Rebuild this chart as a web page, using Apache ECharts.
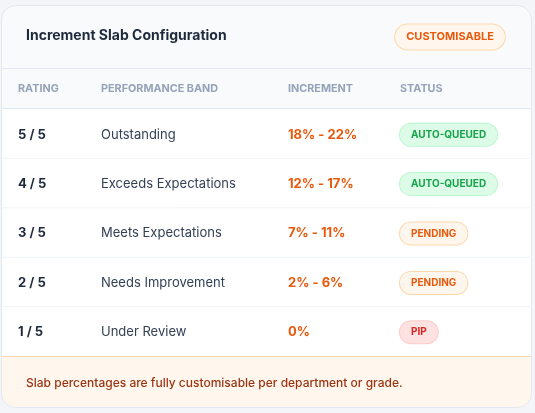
<!DOCTYPE html>
<html>
<head>
<meta charset="utf-8">
<script src="https://cdn.jsdelivr.net/npm/echarts@6/dist/echarts.min.js"></script>
<style>
html,body{margin:0;padding:0;background:#f3f5f8;}
#chart{width:535px;height:413px;}
</style>
</head>
<body>
<div id="chart"></div>
<script>
const title = 'Increment Slab Configuration';
const badgeText = 'CUSTOMISABLE';
const columns = ['RATING', 'PERFORMANCE BAND', 'INCREMENT', 'STATUS'];
const ratings = ['5 / 5', '4 / 5', '3 / 5', '2 / 5', '1 / 5'];
const bands = ['Outstanding', 'Exceeds Expectations', 'Meets Expectations', 'Needs Improvement', 'Under Review'];
const increments = ['18% - 22%', '12% - 17%', '7% - 11%', '2% - 6%', '0%'];
const statuses = ['AUTO-QUEUED', 'AUTO-QUEUED', 'PENDING', 'PENDING', 'PIP'];
const footerNote = 'Slab percentages are fully customisable per department or grade.';

const FONT = 'Inter, "Noto Sans", sans-serif';
const colX = [18, 101, 288, 400];
const statusStyle = {
  'AUTO-QUEUED': { fill: '#16a34a', bg: '#dcfce7', border: '#bbf7d0' },
  'PENDING': { fill: '#ea580c', bg: '#fff7ed', border: '#fed7aa' },
  'PIP': { fill: '#dc2626', bg: '#fee2e2', border: '#fecaca' }
};

const chart = echarts.init(document.getElementById('chart'), null, { renderer: 'canvas' });

const rows = ratings.map((r, i) => [0.5, r]);

const headerGraphics = columns.map((c, i) => ({
  type: 'text', x: colX[i], y: 89, z: 10,
  style: { text: c, fill: '#94a3b8', font: 'bold 10.8px ' + FONT, verticalAlign: 'middle' }
}));

chart.setOption({
  animation: false,
  backgroundColor: '#f3f5f8',
  grid: { left: 2, right: 3, top: 109, bottom: 57 },
  xAxis: { type: 'value', min: 0, max: 1, show: false },
  yAxis: { type: 'category', data: ratings, inverse: true, show: false },
  graphic: [
    { type: 'rect', z: 0, shape: { x: 2, y: 5, width: 530, height: 403, r: 14 }, style: { fill: '#ffffff' } },
    { type: 'rect', z: 1, shape: { x: 2, y: 5, width: 530, height: 104, r: [14, 14, 0, 0] }, style: { fill: '#f8fafc' } },
    { type: 'rect', z: 1, shape: { x: 2, y: 356, width: 530, height: 52, r: [0, 0, 14, 14] }, style: { fill: '#fff7ed' } },
    { type: 'line', z: 2, shape: { x1: 2, y1: 68.5, x2: 532, y2: 68.5 }, style: { stroke: '#e2e8f0', lineWidth: 1 } },
    { type: 'line', z: 2, shape: { x1: 2, y1: 108.5, x2: 532, y2: 108.5 }, style: { stroke: '#e2e8f0', lineWidth: 1 } },
    { type: 'line', z: 2, shape: { x1: 2, y1: 356.5, x2: 532, y2: 356.5 }, style: { stroke: '#fed7aa', lineWidth: 1 } },
    { type: 'rect', z: 3, shape: { x: 1.5, y: 5.5, width: 530, height: 402, r: 14 }, style: { fill: 'none', stroke: '#e2e8f0', lineWidth: 1 } },
    { type: 'text', x: 26, y: 36, z: 10, style: { text: title, fill: '#1e293b', font: 'bold 14px ' + FONT, verticalAlign: 'middle' } },
    { type: 'text', x: 450, y: 37, z: 10, style: {
      text: badgeText, fill: '#ea580c', font: 'bold 11px ' + FONT, align: 'center', verticalAlign: 'middle',
      backgroundColor: '#fff7ed', borderColor: '#fed7aa', borderWidth: 1, borderRadius: 13, padding: [7, 11]
    } },
    ...headerGraphics,
    { type: 'text', x: 26, y: 383, z: 10, style: { text: footerNote, fill: '#9a3412', font: '500 12px ' + FONT, verticalAlign: 'middle' } }
  ],
  series: [{
    type: 'custom',
    data: rows,
    z: 5,
    renderItem: function (params, api) {
      const i = params.dataIndex;
      const pt = api.coord([0, i]);
      const cy = pt[1] + 1;
      const h = api.size([0, 1])[1];
      const st = statusStyle[statuses[i]];
      const children = [
        { type: 'text', style: { x: colX[0], y: cy, text: ratings[i], fill: '#1e293b', font: 'bold 13px ' + FONT, verticalAlign: 'middle' } },
        { type: 'text', style: { x: colX[1], y: cy, text: bands[i], fill: '#334155', font: '400 13px ' + FONT, verticalAlign: 'middle' } },
        { type: 'text', style: { x: colX[2], y: cy, text: increments[i], fill: '#ea580c', font: 'bold 13px ' + FONT, verticalAlign: 'middle' } },
        { type: 'text', style: { x: colX[3], y: cy, text: statuses[i], fill: st.fill, font: 'bold 10px ' + FONT, verticalAlign: 'middle',
          backgroundColor: st.bg, borderColor: st.border, borderWidth: 1, borderRadius: 12, padding: [6, 11] } }
      ];
      if (i < ratings.length - 1) {
        children.push({ type: 'line', shape: { x1: 2, y1: pt[1] + h / 2, x2: 532, y2: pt[1] + h / 2 }, style: { stroke: '#f1f5f9', lineWidth: 1 } });
      }
      return { type: 'group', children: children };
    }
  }]
});
</script>
</body>
</html>
